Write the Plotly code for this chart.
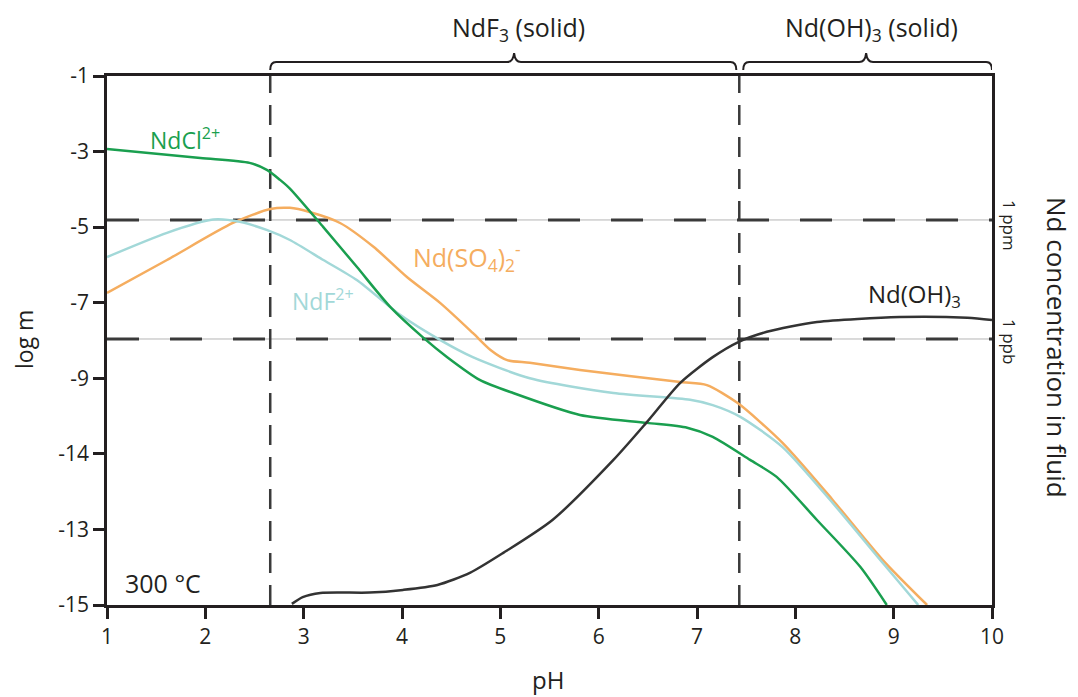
import plotly.graph_objects as go

# ---- data ----
ph_cl = [1.00, 1.95, 2.45, 2.63, 2.76, 2.86, 3.20, 3.54, 3.88, 4.21, 4.46, 4.79, 5.13, 5.81, 6.49, 6.90, 7.16, 7.54, 7.81, 8.22, 8.66, 8.93]
logm_cl = [-2.93, -3.17, -3.30, -3.49, -3.75, -3.98, -5.00, -6.05, -7.11, -7.91, -8.44, -9.04, -9.39, -9.97, -10.18, -10.31, -10.55, -11.16, -11.61, -12.75, -13.99, -15.0]

ph_so4 = [1.00, 1.61, 2.28, 2.66, 2.86, 3.06, 3.37, 3.71, 4.05, 4.39, 4.72, 4.90, 5.07, 5.30, 5.81, 6.83, 7.10, 7.41, 7.87, 8.38, 8.89, 9.34]
logm_so4 = [-6.74, -5.87, -4.89, -4.52, -4.49, -4.60, -4.89, -5.52, -6.32, -7.01, -7.80, -8.25, -8.52, -8.59, -8.78, -9.10, -9.18, -9.65, -10.71, -12.22, -13.81, -15.0]

ph_f = [1.00, 1.61, 2.08, 2.35, 2.63, 2.86, 3.20, 3.54, 3.98, 4.39, 4.72, 5.30, 6.15, 6.93, 7.16, 7.44, 7.87, 8.38, 8.89, 9.25]
logm_f = [-5.79, -5.15, -4.80, -4.86, -5.08, -5.34, -5.87, -6.40, -7.32, -7.99, -8.44, -9.00, -9.39, -9.57, -9.71, -10.02, -10.82, -12.30, -13.89, -15.0]

ph_oh = [2.88, 2.99, 3.17, 3.67, 4.01, 4.36, 4.69, 5.03, 5.53, 6.15, 6.49, 6.83, 7.16, 7.42, 7.71, 8.22, 9.06, 9.75, 10.0]
logm_oh = [-14.97, -14.79, -14.68, -14.67, -14.60, -14.47, -14.15, -13.62, -12.75, -11.16, -10.16, -9.12, -8.44, -8.04, -7.77, -7.51, -7.38, -7.40, -7.46]

x_ticks = [1, 2, 3, 4, 5, 6, 7, 8, 9, 10]
y_tickvals = [-1, -3, -5, -7, -9, -11, -13, -15]
y_ticktext = ["-1", "-3", "-5", "-7", "-9", "-14", "-13", "-15"]

ppm_level = -4.81
ppb_level = -7.96
solid_bounds = [2.66, 7.43]

GREEN = "#1a9f4f"
ORANGE = "#f5ad5f"
BLUE = "#a2d8d8"
BLACK = "#333333"
AX = "#231f20"
FONT = "Open Sans"

fig = go.Figure()
for xs, ys, c in [(ph_so4, logm_so4, ORANGE), (ph_f, logm_f, BLUE), (ph_cl, logm_cl, GREEN), (ph_oh, logm_oh, BLACK)]:
    fig.add_trace(go.Scatter(x=xs, y=ys, mode="lines", line=dict(color=c, width=2.5, shape="spline", smoothing=0.7),
                             showlegend=False, hoverinfo="skip", cliponaxis=True))

shapes = []
for lv in [ppm_level, ppb_level]:
    shapes.append(dict(type="line", xref="x", yref="y", x0=1, x1=10, y0=lv, y1=lv,
                       line=dict(color="#b5b5b5", width=1), layer="below"))
    shapes.append(dict(type="line", xref="x", yref="y", x0=1, x1=10, y0=lv, y1=lv,
                       line=dict(color="#3a3a3a", width=3, dash="32px,31px"), layer="below"))
for bx in solid_bounds:
    shapes.append(dict(type="line", xref="x", yref="y", x0=bx, x1=bx, y0=-15, y1=-1,
                       line=dict(color="#3a3a3a", width=2.5, dash="20px,12px"), layer="below"))


def brace(x0, x1, xm):
    yl, ye, yp = 1.0265, 1.0113, 1.0434
    r = 0.06
    return (f"M {x0},{ye} Q {x0},{yl} {x0 + r},{yl} L {xm - 0.07},{yl} "
            f"Q {xm - 0.01},{yl} {xm},{yp} Q {xm + 0.01},{yl} {xm + 0.07},{yl} "
            f"L {x1 - r},{yl} Q {x1},{yl} {x1},{ye}")


shapes.append(dict(type="path", xref="x", yref="paper", path=brace(2.66, 7.40, 5.14),
                   line=dict(color=AX, width=2)))
shapes.append(dict(type="path", xref="x", yref="paper", path=brace(7.47, 10.0, 8.72),
                   line=dict(color=AX, width=2)))

L, R, T, B = 107, 992, 76, 605


def px(xp, yp):
    return (xp - L) / (R - L), (B - yp) / (B - T)


ann = [
    dict(x=5.18, y=px(0, 28)[1], xref="x", yref="paper", text="NdF<sub>3</sub> (solid)",
         font=dict(size=25, color=AX)),
    dict(x=8.77, y=px(0, 28)[1], xref="x", yref="paper", text="Nd(OH)<sub>3</sub> (solid)",
         font=dict(size=25, color=AX)),
    dict(x=1.43, y=-2.66, xref="x", yref="y", text="NdCl<sup>2+</sup>", xanchor="left",
         font=dict(size=23, color=GREEN)),
    dict(x=4.10, y=-5.78, xref="x", yref="y", text="Nd(SO<sub>4</sub>)<sub>2</sub><sup>-</sup>",
         xanchor="left", font=dict(size=25, color=ORANGE)),
    dict(x=2.87, y=-6.92, xref="x", yref="y", text="NdF<sup>2+</sup>", xanchor="left",
         font=dict(size=23, color=BLUE)),
    dict(x=8.73, y=-6.80, xref="x", yref="y", text="Nd(OH)<sub>3</sub>", xanchor="left",
         font=dict(size=24, color=AX)),
    dict(x=1.17, y=-14.42, xref="x", yref="y", text="300 °C", xanchor="left",
         font=dict(size=25, color=AX)),
    dict(x=px(1010, 0)[0], y=px(0, 226)[1], xref="paper", yref="paper", text="1 ppm", textangle=90,
         font=dict(size=17, color=AX)),
    dict(x=px(1010, 0)[0], y=px(0, 342)[1], xref="paper", yref="paper", text="1 ppb", textangle=90,
         font=dict(size=17, color=AX)),
    dict(x=px(1057, 0)[0], y=px(0, 347)[1], xref="paper", yref="paper", text="Nd concentration in fluid",
         textangle=90, font=dict(size=26, color=AX)),
    dict(x=px(548, 0)[0], y=px(0, 679)[1], xref="paper", yref="paper", text="pH",
         font=dict(size=24, color=AX)),
    dict(x=px(24, 0)[0], y=px(0, 340)[1], xref="paper", yref="paper", text="log m", textangle=-90,
         font=dict(size=23, color=AX)),
]
for a in ann:
    a["showarrow"] = False
    a.setdefault("xanchor", "center")
    a["yanchor"] = "middle"
    a["borderpad"] = 0

fig.update_layout(
    width=1078, height=697,
    margin=dict(l=L, r=1078 - R, t=T, b=697 - B, pad=0),
    paper_bgcolor="white", plot_bgcolor="white",
    font=dict(family=FONT, color=AX, size=21),
    shapes=shapes, annotations=ann, showlegend=False,
    xaxis=dict(range=[1, 10], tickvals=x_ticks, ticks="outside", ticklen=11, tickwidth=2.5, tickcolor=AX,
               showline=True, linecolor=AX, linewidth=2.5, mirror=True, showgrid=False, zeroline=False,
               tickfont=dict(size=21, color=AX)),
    yaxis=dict(range=[-15, -1], tickvals=y_tickvals, ticktext=y_ticktext, ticks="outside", ticklen=11,
               tickwidth=2.5, tickcolor=AX, showline=True, linecolor=AX, linewidth=2.5, mirror=True,
               showgrid=False, zeroline=False, tickfont=dict(size=21, color=AX)),
)

fig.write_html("out.html")
